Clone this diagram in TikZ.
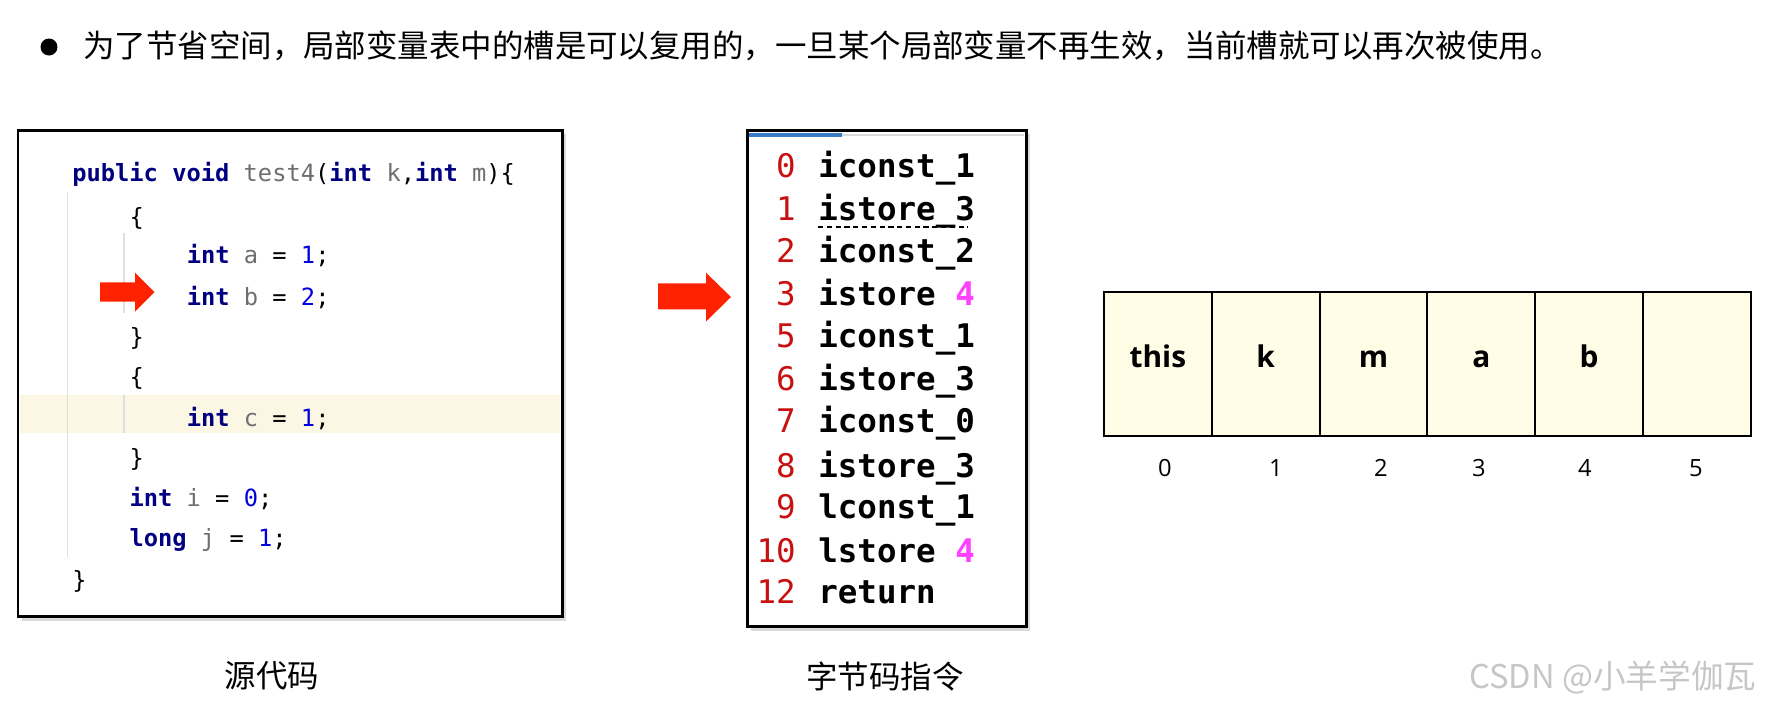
\documentclass[tikz,border=0pt]{standalone}
\usepackage{fontspec}
\usepackage{tikz}
\usetikzlibrary{positioning,shadows}
\setmonofont{DejaVu Sans Mono}
\newfontfamily\cjk{Noto Sans CJK SC}
\newfontfamily\lbl{Open Sans}
\definecolor{kwblue}{HTML}{000080}
\definecolor{idgray}{HTML}{6E6E6E}
\definecolor{numblue}{HTML}{0000E0}
\definecolor{opred}{HTML}{C81010}
\definecolor{argpink}{HTML}{FF40FF}
\definecolor{arrowred}{HTML}{FF2200}
\definecolor{hiline}{HTML}{FCF7E4}
\definecolor{cellfill}{HTML}{FFFDE6}
\definecolor{tabblue}{HTML}{3A7BC8}
\newcommand\kw[1]{\textcolor{kwblue}{\bfseries #1}}
\newcommand\id[1]{\textcolor{idgray}{#1}}
\newcommand\nm[1]{\textcolor{numblue}{#1}}
\newcommand\mg[1]{\textcolor{argpink}{#1}}

\begin{document}
\begin{tikzpicture}[x=0.02cm,y=-0.02cm,
  panel/.style={draw=black,line width=1.7pt,fill=white,
    drop shadow={shadow xshift=2.5pt,shadow yshift=-2.5pt,opacity=0.3}},
  guide/.style={draw=gray!25,line width=0.6pt},
  codeline/.style={anchor=base west,inner sep=0,font=\ttfamily\fontsize{13.5}{16}\selectfont},
  opnum/.style={anchor=base east,inner sep=0,text=opred,font=\ttfamily\fontsize{18.5}{22}\selectfont},
  opname/.style={anchor=base west,inner sep=0,font=\ttfamily\bfseries\fontsize{18.5}{22}\selectfont},
  caption/.style={inner sep=0,font=\cjk\fontsize{17.9}{20}\selectfont},
  cell/.style={draw,line width=1.1pt,fill=cellfill,minimum width=2.156cm,minimum height=2.88cm,
    inner sep=0,text height=0.45cm,text depth=0.31cm,font=\lbl\bfseries\fontsize{17}{20}\selectfont},
  slotidx/.style={inner sep=0,font=\lbl\fontsize{13.5}{16}\selectfont}]
\useasboundingbox (0,0) rectangle (1768,704);

% heading
\fill (49,47) circle[radius=0.17cm];
\node[anchor=west,inner sep=0,font=\cjk\fontsize{17.9}{20}\selectfont] (title) at (83,46)
  {为了节省空间，局部变量表中的槽是可以复用的，一旦某个局部变量不再生效，当前槽就可以再次被使用。};

% source code panel
\draw[panel] (18,130) rectangle (562,616.5);
\fill[hiline] (20,395) rectangle (560,433);
\draw[guide] (67.7,191.7) -- (67.7,556.7);
\draw[guide] (124,233) -- (124,313);
\draw[guide] (124,395) -- (124,433);
\foreach \lv/\yy/\txt in {
  0/173.3/{\kw{public} \kw{void} \id{test4}(\kw{int} \id{k},\kw{int} \id{m})\{},
  1/216.7/{\{},
  2/255/{\kw{int} \id{a} = \nm{1};},
  2/296.7/{\kw{int} \id{b} = \nm{2};},
  1/336.7/{\}},
  1/376.7/{\{},
  2/418.3/{\kw{int} \id{c} = \nm{1};},
  1/458/{\}},
  1/498/{\kw{int} \id{i} = \nm{0};},
  1/538/{\kw{long} \id{j} = \nm{1};},
  0/580/{\}}}
  \node[codeline] at (72+57.2*\lv,\yy+8.5) {\txt};
\fill[arrowred] (100,282.3) -- (135,282.3) -- (135,272.5) -- (154.5,292) -- (135,311.5)
  -- (135,301.7) -- (100,301.7) -- cycle;
\node[caption] (srccap) at (272,676) {源代码};

% bytecode panel
\fill[arrowred] (658,283.3) -- (706,283.3) -- (706,272.7) -- (731,297) -- (706,321.5)
  -- (706,309.3) -- (658,309.3) -- cycle;
\draw[panel] (747,130) rectangle (1026,626.5);
\fill[tabblue] (749,133) rectangle (842,136.5);
\draw[gray!30,line width=0.8pt] (842,135) -- (1024,135);
\foreach \n/\yy/\ins in {
  0/166.7/{iconst\_1},
  1/210/{istore\_3},
  2/251.7/{iconst\_2},
  3/295/{istore \mg{4}},
  5/336.7/{iconst\_1},
  6/380/{istore\_3},
  7/421.7/{iconst\_0},
  8/466.7/{istore\_3},
  9/508/{lconst\_1},
  10/551.7/{lstore \mg{4}},
  12/593/{return}} {
  \node[opnum] (num\n) at (796,\yy+10.5) {\n};
  \node[opname] (op\n) at (818,\yy+10.5) {\ins};
}
\draw[dashed,dash pattern=on 3pt off 2pt,line width=0.8pt] (818,227) -- (968,227);
\node[caption] (bccap) at (885,677) {字节码指令};

% local variable slots
\foreach \i/\v/\ix in {0/this/1165,1/k/1276,2/m/1381,3/a/1479,4/b/1585,5/{}/1696} {
  \node[cell] (s\i) at ({1157.9+107.8*\i},363.7) {\v};
  \node[slotidx] (idx\i) at (\ix,468) {\i};
}

% watermark
\node[anchor=east,inner sep=0,text=gray!45,font=\cjk\fontsize{18.6}{21}\selectfont] (mark)
  at (1757,677) {CSDN @小羊学伽瓦};
\end{tikzpicture}
\end{document}
